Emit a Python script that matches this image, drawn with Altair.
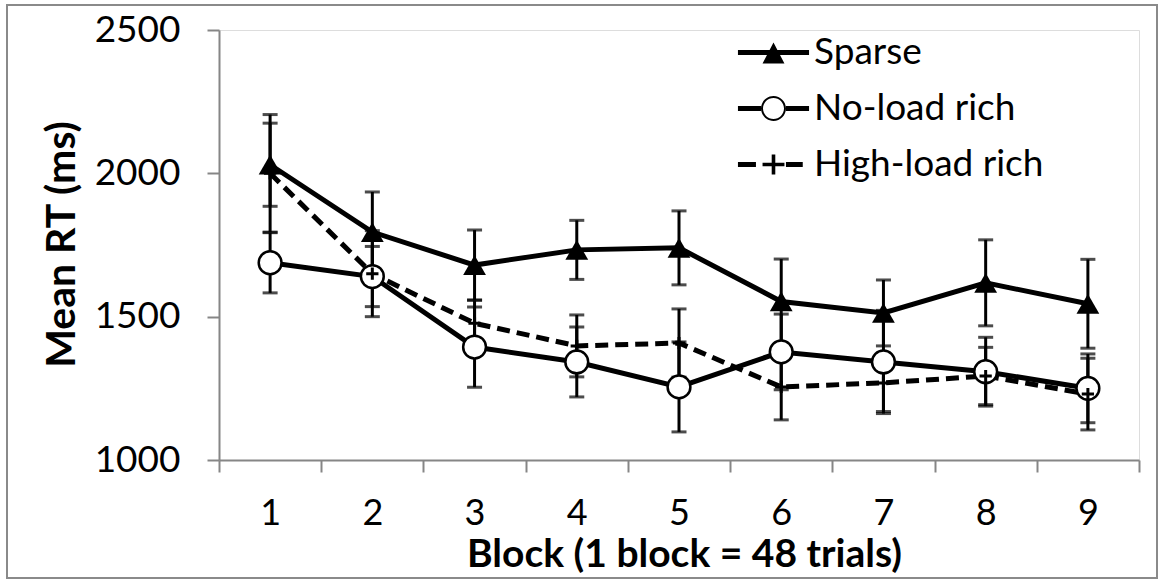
import altair as alt
import pandas as pd

blocks = [1, 2, 3, 4, 5, 6, 7, 8, 9]
series_names = ["Sparse", "No-load rich", "High-load rich"]
sparse_mean = [2030, 1795, 1680, 1733, 1740, 1553, 1513, 1618, 1545]
sparse_err = [145, 140, 122, 103, 129, 148, 115, 150, 155]
noload_mean = [1688, 1640, 1394, 1342, 1255, 1377, 1342, 1308, 1250]
noload_err = [105, 105, 140, 122, 157, 132, 180, 120, 120]
highload_mean = [2000, 1650, 1477, 1398, 1408, 1255, 1269, 1293, 1230]
highload_err = [205, 150, 80, 108, 119, 115, 100, 100, 125]

y_ticks = [1000, 1500, 2000, 2500]
x_ticks = [0.5, 1.5, 2.5, 3.5, 4.5, 5.5, 6.5, 7.5, 8.5, 9.5]

rows = []
for name, means, errs in zip(series_names,
                             [sparse_mean, noload_mean, highload_mean],
                             [sparse_err, noload_err, highload_err]):
    for b, m, e in zip(blocks, means, errs):
        rows.append({"block": b, "series": name, "mean": m, "lo": m - e, "hi": m + e})
df = pd.DataFrame(rows)

FONT = "Lato"
GRAY = "#868686"
W, H = 920, 430
band = W / 9

x_axis = alt.Axis(values=x_ticks, labelExpr="datum.value < 9 ? format(datum.value + 0.5, 'd') : ''",
                  labelOffset=band / 2, labelFlush=False, labelOverlap=False,
                  tickSize=12, labelPadding=24, labelFontSize=36, labelFont=FONT,
                  labelColor="black", domainColor=GRAY, tickColor=GRAY,
                  domainWidth=2, tickWidth=2, grid=False,
                  title="Block (1 block = 48 trials)", titleFont=FONT, titleFontSize=39,
                  titleFontWeight="bold", titleColor="black", titleX=465, titleY=106,
                  titleBaseline="alphabetic", titleAlign="center")
y_axis = alt.Axis(values=y_ticks, format="d", labelFlush=False, labelOverlap=False,
                  tickSize=12, labelPadding=27, labelFontSize=37, labelFont=FONT,
                  labelColor="black", domainColor=GRAY, tickColor=GRAY,
                  domainWidth=2, tickWidth=2, grid=False,
                  title="Mean RT (ms)", titleFont=FONT, titleFontSize=41,
                  titleFontWeight="bold", titleColor="black", titleX=-145, titleY=214,
                  titleBaseline="alphabetic", titleAlign="center")

x_enc = alt.X("block:Q", scale=alt.Scale(domain=[0.5, 9.5], nice=False, zero=False), axis=x_axis)
y_scale = alt.Scale(domain=[1000, 2500], nice=False, zero=False)


def y_enc(field):
    return alt.Y(field, scale=y_scale, axis=y_axis)


base = alt.Chart(df)

solid_lines = base.transform_filter(alt.datum.series != "High-load rich").mark_line(
    color="black", strokeWidth=5).encode(
    x=x_enc, y=y_enc("mean:Q"), detail="series:N")
dashed_line = base.transform_filter(alt.datum.series == "High-load rich").mark_line(
    color="black", strokeWidth=5, strokeDash=[13, 7]).encode(
    x=x_enc, y=y_enc("mean:Q"))

err_rules = base.mark_rule(color="black", strokeWidth=3).encode(
    x=x_enc, y=y_enc("lo:Q"), y2="hi:Q")
cap_lo = base.mark_tick(color="black", thickness=3, size=15, orient="horizontal").encode(
    x=x_enc, y=y_enc("lo:Q"))
cap_hi = base.mark_tick(color="black", thickness=3, size=15, orient="horizontal").encode(
    x=x_enc, y=y_enc("hi:Q"))

tri = base.transform_filter(alt.datum.series == "Sparse").mark_point(
    shape="triangle-up", filled=True, color="black", size=520, opacity=1).encode(
    x=x_enc, y=y_enc("mean:Q"))
circ = base.transform_filter(alt.datum.series == "No-load rich").mark_point(
    shape="circle", filled=False, fill="white", fillOpacity=1, stroke="black", strokeWidth=2.5,
    size=520, opacity=1).encode(
    x=x_enc, y=y_enc("mean:Q"))
plus = base.transform_filter(alt.datum.series == "High-load rich").mark_point(
    shape="M-1,0H1M0,-1V1", filled=False, stroke="black", strokeWidth=3, size=150, opacity=1).encode(
    x=x_enc, y=y_enc("mean:Q"))

sym_sparse = ("M-2.37,-0.17H2.37V0.17H-2.37Z"
              "M-0.73,0.73L0,-0.67L0.73,0.73Z")
sym_noload = ("M-2.37,-0.17H-0.83V0.17H-2.37Z"
              "M0.83,-0.17H2.37V0.17H0.83Z"
              "M-0.83,0A0.83,0.83 0 1,1 0.83,0A0.83,0.83 0 1,1 -0.83,0Z"
              "M-0.7,0A0.7,0.7 0 1,0 0.7,0A0.7,0.7 0 1,0 -0.7,0Z")
sym_high = ("M-2.37,-0.17H-1.17V0.17H-2.37Z"
            "M-0.73,-0.12H0.73V0.12H-0.73Z"
            "M-0.12,-0.67H0.12V0.67H-0.12Z"
            "M0.83,-0.17H1.95V0.17H0.83Z")

legend_layer = base.mark_point(filled=True, color="black", opacity=0, size=10).encode(
    x=x_enc, y=y_enc("mean:Q"),
    shape=alt.Shape("series:N", scale=alt.Scale(domain=series_names,
                    range=[sym_sparse, sym_noload, sym_high]),
                    legend=alt.Legend(title=None, orient="none", legendX=536, legendY=4,
                                      symbolSize=900, symbolOpacity=1, symbolFillColor="black",
                                      symbolStrokeWidth=0, labelFont=FONT, labelFontSize=37,
                                      labelColor="black", labelOffset=22, rowPadding=18,
                                      padding=0, labelLimit=400)),
)

border = alt.Chart(pd.DataFrame({"k": [0]})).mark_rect(
    fill=None, stroke="#8a8a8a", strokeWidth=2).encode(
    x=alt.value(-212), x2=alt.value(938), y=alt.value(-25), y2=alt.value(548))

chart = alt.layer(border, solid_lines, dashed_line, err_rules, cap_lo, cap_hi, tri, circ, plus,
                  legend_layer).properties(
    width=W, height=H,
    autosize=alt.AutoSizeParams(type="none"),
    padding={"left": 219, "top": 30, "right": 21, "bottom": 125},
).configure_view(stroke=None).configure(background="white")

chart.save("out.html", embed_options={"renderer": "svg", "actions": False})
